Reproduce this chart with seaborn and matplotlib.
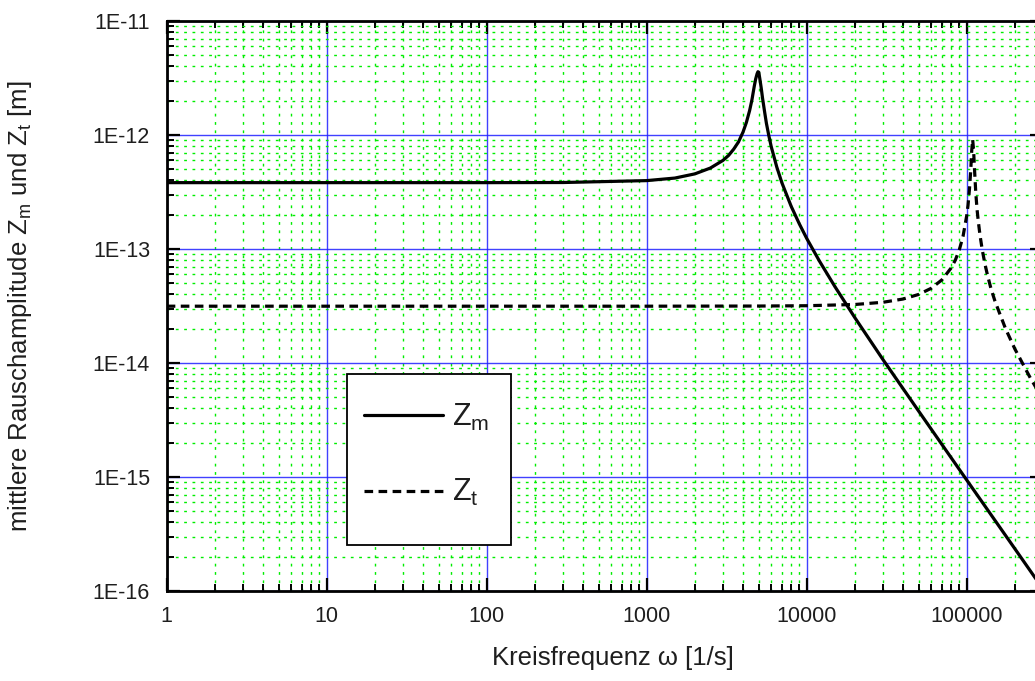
import numpy as np
import pandas as pd
import matplotlib
matplotlib.use("Agg")
import matplotlib.pyplot as plt
import matplotlib.ticker as mticker
from matplotlib.patches import Rectangle
import seaborn as sns

# ---- data (log-log) ----
omega_m = [1, 10, 100, 300, 1000, 1500, 2000, 2500, 3000, 3250, 3500, 3750,
           4000, 4200, 4400, 4550, 4700, 4800, 4900, 4960, 5020, 5100, 5200,
           5300, 5450, 5600, 5800, 6000, 6500, 7000, 8000, 9000, 10000, 12000,
           15000, 20000, 30000, 50000, 100000, 200000, 300000]
z_m = [3.82e-13, 3.82e-13, 3.82e-13, 3.83e-13, 3.98e-13, 4.19e-13, 4.56e-13,
       5.13e-13, 5.99e-13, 6.62e-13, 7.52e-13, 8.70e-13, 1.06e-12, 1.29e-12,
       1.64e-12, 2.04e-12, 2.66e-12, 3.10e-12, 3.45e-12, 3.59e-12, 3.55e-12,
       3.09e-12, 2.58e-12, 2.10e-12, 1.62e-12, 1.27e-12, 9.87e-13, 7.94e-13,
       5.25e-13, 3.81e-13, 2.37e-13, 1.66e-13, 1.24e-13, 7.86e-14, 4.69e-14,
       2.50e-14, 1.07e-14, 3.80e-15, 9.42e-16, 2.35e-16, 1.04e-16]

omega_t = [1, 10, 100, 1000, 5000, 10000, 20000, 30000, 40000, 50000, 60000,
           70000, 80000, 85000, 90000, 95000, 100000, 102000, 104000, 106000,
           107500, 109000, 110500, 112000, 114000, 116000, 118000, 121000,
           125000, 130000, 135000, 142000, 150000, 160000, 175000, 200000,
           250000, 300000]
z_t = [3.15e-14, 3.15e-14, 3.15e-14, 3.15e-14, 3.16e-14, 3.18e-14, 3.26e-14,
       3.41e-14, 3.64e-14, 3.99e-14, 4.52e-14, 5.36e-14, 6.82e-14, 8.01e-14,
       9.86e-14, 1.30e-13, 1.95e-13, 2.43e-13, 3.30e-13, 4.84e-13, 7.20e-13,
       9.14e-13, 7.30e-13, 4.95e-13, 3.13e-13, 2.26e-13, 1.79e-13, 1.34e-13,
       9.92e-14, 7.42e-14, 5.88e-14, 4.48e-14, 3.52e-14, 2.77e-14, 2.00e-14,
       1.33e-14, 7.39e-15, 4.79e-15]

x_ticks = [1, 10, 100, 1000, 10000, 100000]
x_tick_labels = ["1", "10", "100", "1000", "10000", "100000"]
y_ticks = [1e-16, 1e-15, 1e-14, 1e-13, 1e-12, 1e-11]
y_tick_labels = ["1E-16", "1E-15", "1E-14", "1E-13", "1E-12", "1E-11"]

label_m = r"Z$_\mathrm{m}$"
label_t = r"Z$_\mathrm{t}$"
xlabel = "Kreisfrequenz \u03c9 [1/s]"
ylabel = r"mittlere Rauschamplitude Z$_\mathrm{m}$ und Z$_\mathrm{t}$ [m]"

# ---- style ----
sns.set_style("white")
plt.rcParams["font.family"] = ["Liberation Sans", "DejaVu Sans"]
plt.rcParams["mathtext.fontset"] = "custom"
plt.rcParams["mathtext.rm"] = "Liberation Sans"
plt.rcParams["mathtext.it"] = "Liberation Sans:italic"
text_color = "#1e1e1e"

fig = plt.figure(figsize=(10.35, 6.81), dpi=100)
W, H = 1035.0, 681.0
x0, x1 = 166.7, 1043.0
y_top, y_bot = 21.0, 591.0
axw, axh = x1 - x0, y_bot - y_top
ax = fig.add_axes([x0 / W, (H - y_bot) / H, axw / W, axh / H])

df_m = pd.DataFrame({"omega": omega_m, "Z": z_m})
df_t = pd.DataFrame({"omega": omega_t, "Z": z_t})

sns.lineplot(data=df_m, x="omega", y="Z", ax=ax, color="black", lw=2.3,
             label=label_m, zorder=5)
sns.lineplot(data=df_t, x="omega", y="Z", ax=ax, color="black", lw=2.3,
             label=label_t, zorder=5)
ax.lines[1].set_dashes((2.7, 1.7))

ax.set_xscale("log")
ax.set_yscale("log")
ax.set_xlim(1, 3e5)
ax.set_ylim(1e-16, 1e-11)

ax.xaxis.set_major_locator(mticker.FixedLocator(x_ticks))
ax.xaxis.set_major_formatter(mticker.FixedFormatter(x_tick_labels))
ax.xaxis.set_minor_locator(mticker.LogLocator(base=10, subs=np.arange(2, 10), numticks=20))
ax.xaxis.set_minor_formatter(mticker.NullFormatter())
ax.yaxis.set_major_locator(mticker.FixedLocator(y_ticks))
ax.yaxis.set_major_formatter(mticker.FixedFormatter(y_tick_labels))
ax.yaxis.set_minor_locator(mticker.LogLocator(base=10, subs=np.arange(2, 10), numticks=20))
ax.yaxis.set_minor_formatter(mticker.NullFormatter())

ax.grid(True, which="minor", color="#00ee00", lw=1.0, linestyle=(0, (2, 4)), zorder=0)
ax.grid(True, which="major", color="#2020ff", lw=1.0, linestyle="-", alpha=0.85, zorder=1)
ax.set_axisbelow(True)

ax.tick_params(which="both", direction="in", top=True, right=True,
               bottom=True, left=True, color="black")
ax.tick_params(which="major", length=9.5, width=1.6, labelsize=15.5,
               labelcolor=text_color)
ax.tick_params(which="minor", length=5, width=1.4)
ax.tick_params(axis="x", which="major", pad=11)
ax.tick_params(axis="y", which="major", pad=12)

for s in ax.spines.values():
    s.set_visible(True)
    s.set_color("black")
    s.set_linewidth(2.0)

ax.set_xlabel(xlabel, fontsize=18.5, color=text_color)
ax.set_ylabel(ylabel, fontsize=18.5, color=text_color)
ax.xaxis.set_label_coords((613 - x0) / axw, -(646 - y_bot) / axh)
ax.yaxis.set_label_coords(-(x0 - 34) / axw, 0.5)

# legend box (frame drawn as a rectangle to match the reference proportions)
bx0, bx1, by0, by1 = 347.0, 511.0, 374.0, 545.0
frame = Rectangle(((bx0 - x0) / axw, (y_bot - by1) / axh),
                  (bx1 - bx0) / axw, (by1 - by0) / axh,
                  transform=ax.transAxes, facecolor="white", edgecolor="black",
                  lw=1.3, zorder=8)
ax.add_patch(frame)
leg = ax.legend(loc="upper left",
                bbox_to_anchor=((bx0 - x0) / axw, (y_bot - (by0 + 11)) / axh),
                borderaxespad=0, fontsize=22, frameon=False,
                handlelength=2.6, handletextpad=0.3, labelspacing=1.45,
                borderpad=0.55)
for t in leg.get_texts():
    t.set_color(text_color)
leg.set_zorder(10)

fig.savefig("out.png", dpi=100)
